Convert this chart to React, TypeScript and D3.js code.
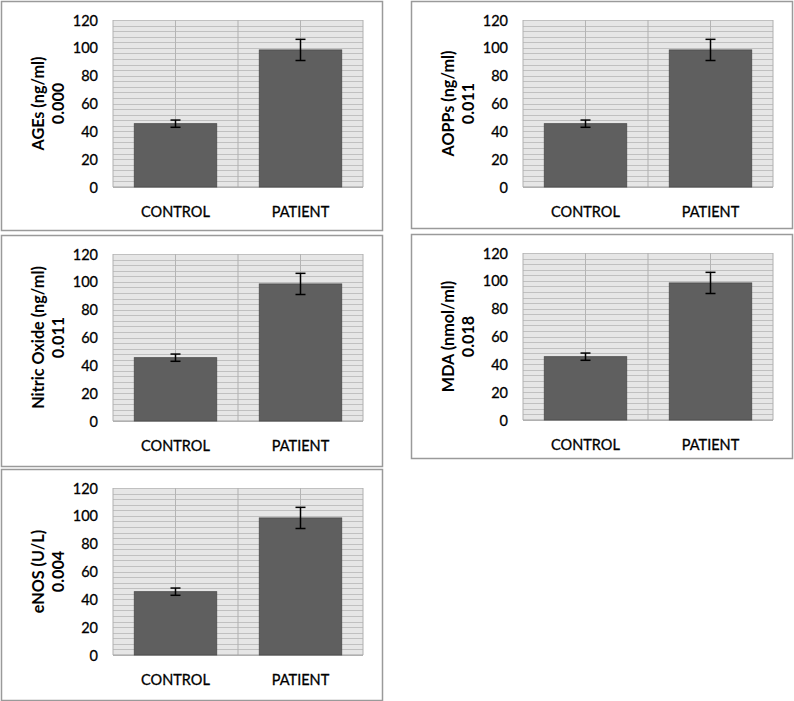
import * as d3 from "d3";
import React from "react";

const categories = ["CONTROL", "PATIENT"];
const yTicks = [0, 20, 40, 60, 80, 100, 120];

const panelTitles = ["AGEs (ng/ml)", "AOPPs (ng/ml)", "Nitric Oxide (ng/ml)", "MDA (nmol/ml)", "eNOS (U/L)"];
const panelPValues = ["0.000", "0.011", "0.011", "0.018", "0.004"];
const meanValues = [
  [45.5, 98.5],
  [45.5, 98.5],
  [45.5, 98.5],
  [45.5, 98.5],
  [45.5, 98.5],
];
const errorValues = [
  [2.6, 7.6],
  [2.6, 7.6],
  [2.6, 7.6],
  [2.6, 7.6],
  [2.6, 7.6],
];

// panel boxes: x, y, w, h
const boxes = [
  [1, 1, 381, 229],
  [411, 1, 381, 227],
  [1, 235, 381, 231],
  [411, 234, 381, 224],
  [1, 469, 381, 231],
];

const font = "Lato, 'Open Sans', sans-serif";

function Panel({ idx }: { idx: number }) {
  const [bx, by, bw, bh] = boxes[idx];
  const plotLeft = 112;
  const plotTop = 19;
  const plotW = 250;
  const plotH = 167;

  const x = d3.scaleBand().domain(categories).range([0, plotW]).paddingInner(0).paddingOuter(0);
  const y = d3.scaleLinear().domain([0, 120]).range([plotH, 0]);
  const barW = x.bandwidth() * 0.66;
  const minor = d3.range(0, 121, 4);

  return (
    <g transform={`translate(${bx},${by})`}>
      <rect x={0.5} y={0.5} width={bw} height={bh} fill="#fff" stroke="#9a9a9a" strokeWidth={1.5} />
      <g transform={`translate(${plotLeft},${plotTop})`}>
        <rect x={0} y={0} width={plotW} height={plotH} fill="#e6e6e6" />
        {minor.map((v) => (
          <line key={v} x1={0} x2={plotW} y1={Math.round(y(v)) + 0.5} y2={Math.round(y(v)) + 0.5} stroke="#c0c0c0" strokeWidth={1} />
        ))}
        {categories.map((c) => (
          <line key={c} x1={x(c)! + x.bandwidth() / 2} x2={x(c)! + x.bandwidth() / 2} y1={0} y2={plotH} stroke="#b4b4b4" strokeWidth={1} />
        ))}
        {[0, plotW / 2, plotW].map((v) => (
          <line key={v} x1={v} x2={v} y1={0} y2={plotH} stroke="#b0b0b0" strokeWidth={1} />
        ))}
        <line x1={0} x2={plotW} y1={plotH} y2={plotH} stroke="#a0a0a0" strokeWidth={1} />
        {categories.map((c, i) => {
          const cx = x(c)! + x.bandwidth() / 2;
          const v = meanValues[idx][i];
          const e = errorValues[idx][i];
          return (
            <g key={c}>
              <rect x={cx - barW / 2} y={y(v)} width={barW} height={plotH - y(v)} fill="#5f5f5f" stroke="#4a4a4a" strokeWidth={0.8} />
              <line x1={cx} x2={cx} y1={y(v + e)} y2={y(v - e)} stroke="#000" strokeWidth={1.5} />
              <line x1={cx - 5} x2={cx + 5} y1={y(v + e)} y2={y(v + e)} stroke="#000" strokeWidth={1.5} />
              <line x1={cx - 5} x2={cx + 5} y1={y(v - e)} y2={y(v - e)} stroke="#000" strokeWidth={1.5} />
              <text x={cx} y={plotH + 29.5} textAnchor="middle" fontFamily={font} fontSize={14.5} fill="#000" stroke="#000" strokeWidth={0.3}>{c}</text>
            </g>
          );
        })}
        {yTicks.map((t) => (
          <text key={t} x={-15} y={y(t) + 5.5} textAnchor="end" fontFamily={font} fontSize={14.5} fill="#000" stroke="#000" strokeWidth={0.3}>{t}</text>
        ))}
        <text transform={`translate(${-69},${plotH / 2}) rotate(-90)`} textAnchor="middle" fontFamily={font} fontSize={16.2} fontWeight="bold" fill="#000">
          <tspan x={0} dy={0}>{panelTitles[idx]}</tspan>
          <tspan x={0} dy={19.5}>{panelPValues[idx]}</tspan>
        </text>
      </g>
    </g>
  );
}

export default function App() {
  return (
    <svg width={794} height={701} style={{ position: "absolute", left: 0, top: 0 }}>
      <rect width={794} height={701} fill="#fff" />
      {boxes.map((_, i) => (
        <Panel key={i} idx={i} />
      ))}
    </svg>
  );
}
